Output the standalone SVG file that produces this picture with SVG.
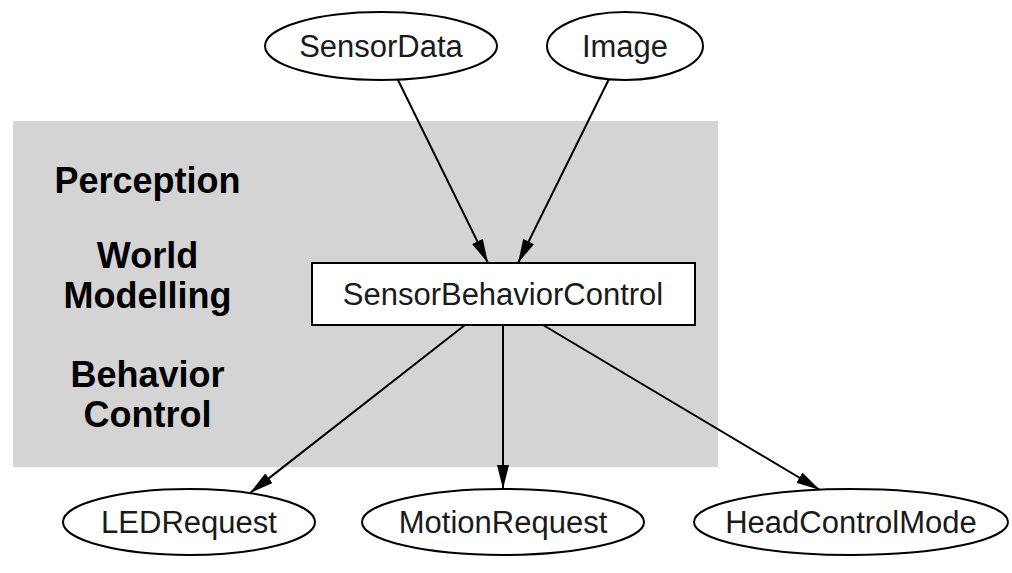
<svg xmlns="http://www.w3.org/2000/svg" width="1012" height="573" viewBox="0 0 1012 573">
  <style>
    .node ellipse, .node rect { fill: #ffffff; stroke: #000000; stroke-width: 2; }
    .label { font-family: "Liberation Sans", Arial, sans-serif; font-size: 31px; fill: #1a1a1a; text-anchor: middle; }
    .layer { font-family: "Liberation Sans", Arial, sans-serif; font-size: 36px; font-weight: bold; fill: #000000; text-anchor: middle; }
    .edge { fill: none; stroke: #000000; stroke-width: 2; marker-end: url(#arrow); }
  </style>
  <defs>
    <marker id="arrow" viewBox="0 0 24 12" refX="24" refY="6" markerWidth="24" markerHeight="12" markerUnits="userSpaceOnUse" orient="auto">
      <path d="M0,0 L24,6 L0,12 Z" fill="#000000"/>
    </marker>
  </defs>

  <rect width="1012" height="573" fill="#ffffff"/>

  <!-- module area with layer captions -->
  <g id="module-area">
    <rect x="13" y="121" width="705" height="346" fill="#d4d4d4"/>
    <text class="layer" x="147.5" y="193">Perception</text>
    <text class="layer" x="147.5" y="268">World</text>
    <text class="layer" x="147.5" y="308">Modelling</text>
    <text class="layer" x="147.5" y="387">Behavior</text>
    <text class="layer" x="147.5" y="427">Control</text>
  </g>

  <!-- connectors -->
  <g id="connectors">
    <line class="edge" x1="398" y1="80" x2="488" y2="263"/>
    <line class="edge" x1="609" y1="79" x2="518" y2="263"/>
    <line class="edge" x1="465" y1="325" x2="250" y2="493"/>
    <line class="edge" x1="503" y1="325" x2="503" y2="489"/>
    <line class="edge" x1="543" y1="325" x2="820" y2="490"/>
  </g>

  <g id="SensorData" class="node">
    <ellipse cx="381" cy="46" rx="116" ry="34"/>
    <text class="label" x="381" y="57">SensorData</text>
  </g>
  <g id="Image" class="node">
    <ellipse cx="625" cy="46" rx="78" ry="34"/>
    <text class="label" x="625" y="57">Image</text>
  </g>
  <g id="SensorBehaviorControl" class="node">
    <rect x="312" y="263" width="383" height="62"/>
    <text class="label" x="503" y="305">SensorBehaviorControl</text>
  </g>
  <g id="LEDRequest" class="node">
    <ellipse cx="189" cy="522" rx="126" ry="33"/>
    <text class="label" x="189" y="533">LEDRequest</text>
  </g>
  <g id="MotionRequest" class="node">
    <ellipse cx="503" cy="522" rx="141" ry="33"/>
    <text class="label" x="503" y="533">MotionRequest</text>
  </g>
  <g id="HeadControlMode" class="node">
    <ellipse cx="851" cy="522" rx="157" ry="33"/>
    <text class="label" x="851" y="533">HeadControlMode</text>
  </g>
</svg>
